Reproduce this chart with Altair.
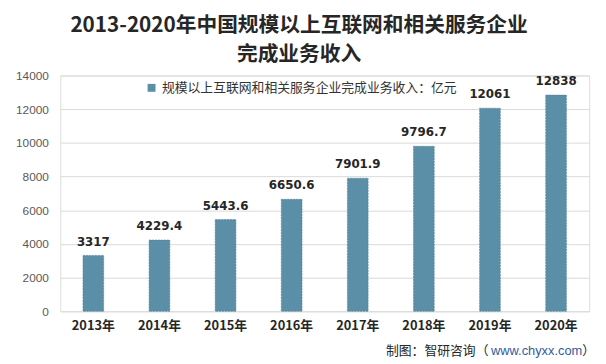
import altair as alt
import pandas as pd

years = ["2013年", "2014年", "2015年", "2016年", "2017年", "2018年", "2019年", "2020年"]
values = [3317, 4229.4, 5443.6, 6650.6, 7901.9, 9796.7, 12061, 12838]
labels = ["3317", "4229.4", "5443.6", "6650.6", "7901.9", "9796.7", "12061", "12838"]
series_name = "规模以上互联网和相关服务企业完成业务收入：亿元"
y_ticks = [0, 2000, 4000, 6000, 8000, 10000, 12000, 14000]
title_lines = ["2013-2020年中国规模以上互联网和相关服务企业", "完成业务收入"]
source_a = "制图：智研咨询（"
source_b = "www.chyxx.com"
source_c = "）"

df = pd.DataFrame({"year": years, "value": values, "label": labels, "series": series_name})

CJK = "Noto Sans CJK SC"
BAR = "#5b8fa8"

x_enc = alt.X("year:N", sort=years,
              scale=alt.Scale(paddingInner=0, paddingOuter=0),
              axis=alt.Axis(title=None, labelAngle=0, labelFont=CJK, labelFontSize=13,
                            labelFontWeight="bold", labelColor="#262626", labelPadding=8,
                            ticks=False, domain=False))
y_enc = alt.Y("value:Q", scale=alt.Scale(domain=[0, 14000], nice=False),
              axis=alt.Axis(title=None, values=y_ticks, format="d", labelOverlap=False,
                            labelFont="Liberation Sans",
                            labelFontSize=12, labelColor="#595959", labelPadding=12,
                            ticks=False, domain=False, grid=True, gridColor="#d9d9d9",
                            gridWidth=1))

base = alt.Chart(df)

bars = base.mark_bar(size=21, stroke="#4a7d95", strokeWidth=0.6, strokeDash=[2, 1]).encode(
    x=x_enc,
    y=y_enc,
    color=alt.Color("series:N",
                    scale=alt.Scale(domain=[series_name], range=[BAR]),
                    legend=alt.Legend(title=None, orient="none", legendX=86, legendY=6,
                                      symbolType="square", symbolSize=64, symbolStrokeWidth=0,
                                      labelFont=CJK, labelFontSize=13, labelColor="#333333",
                                      labelOffset=4, labelLimit=0, padding=0)),
)

text = base.mark_text(dy=-14, font="DejaVu Sans", fontSize=12, fontWeight="bold",
                      color="#262626").encode(
    x=x_enc,
    y=y_enc,
    text="label:N",
)

src_a = alt.Chart(pd.DataFrame({"t": [source_a]})).mark_text(
    align="right", baseline="middle", font=CJK, fontSize=13, color="#262626"
).encode(x=alt.value(434), y=alt.value(279), text="t:N")
src_b = alt.Chart(pd.DataFrame({"t": [source_b]})).mark_text(
    align="right", baseline="middle", font="Liberation Sans", fontSize=13, color="#2e5c9e"
).encode(x=alt.value(529), y=alt.value(279), text="t:N")
src_c = alt.Chart(pd.DataFrame({"t": [source_c]})).mark_text(
    align="right", baseline="middle", font=CJK, fontSize=13, color="#262626"
).encode(x=alt.value(542), y=alt.value(279), text="t:N")

chart = alt.layer(bars, text, src_a, src_b, src_c).properties(
    width=536,
    height=239,
    title=alt.TitleParams(text=title_lines, font=CJK, fontSize=21, fontWeight="bold",
                          color="#262626", anchor="middle", frame="group", dx=-26,
                          offset=5, lineHeight=29),
    autosize=alt.AutoSizeParams(type="none"),
    padding={"left": 53, "top": 66, "right": 9, "bottom": 51},
).configure_view(stroke=None).configure(background="white")

chart.save("out.html", embed_options={"renderer": "svg", "actions": False})
